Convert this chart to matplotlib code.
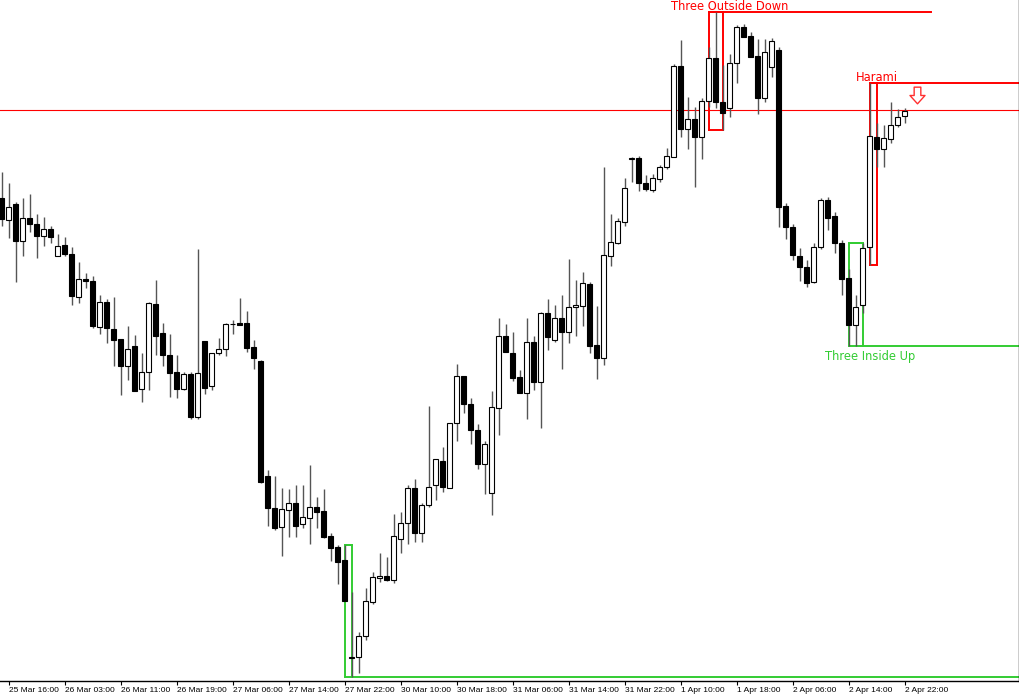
import numpy as np
import matplotlib
matplotlib.use("Agg")
import matplotlib.pyplot as plt
from matplotlib.path import Path

# hourly candles, price in chart units (no price scale shown)
opens = [502, 480, 496, 459, 482, 476, 464, 471, 444, 455,
         446, 403, 421, 419, 373, 398, 371, 361, 334, 354,
         311, 328, 396, 367, 345, 328, 311, 326, 283, 359,
         314, 347, 351, 376, 377.5, 377, 353, 339, 224, 192,
         173, 190, 197, 176, 182, 193, 189, 164, 153, 140,
         43, 43, 64, 98, 122, 124, 120, 161, 177, 212,
         167, 195, 215, 239, 212, 277, 324, 296, 270, 236,
         207, 292, 364, 347, 323, 307, 358, 318, 387, 360,
         382, 368, 393, 394, 416, 355, 342, 444, 457, 478,
         541.5, 542, 517, 510, 521, 533, 543, 634, 571, 581,
         563, 599, 642, 598, 592, 637, 673, 664, 644, 602,
         633, 650, 494, 473, 444, 433, 418, 453, 500, 484,
         457, 422, 375, 395, 453, 563, 551, 561, 575, 584]
highs = [528, 517, 498, 502, 506, 486, 483, 474, 466, 463,
         453, 438, 427, 424, 405, 401, 403, 361, 374, 365,
         347, 398, 420, 377, 366, 345, 328, 328, 451, 359,
         347, 362, 377, 380, 402, 389, 360, 340, 230, 224,
         212, 211, 215, 215, 235, 203, 211, 167, 155, 155,
         108, 68, 112, 128, 147, 143, 186, 188, 215, 221,
         197, 294, 241, 253, 277, 336, 324, 302, 276, 259,
         309, 382, 376, 368, 330, 382, 364, 388, 401, 395,
         405, 441, 420, 428, 418, 394, 533, 486, 482, 522,
         543, 544, 525, 526, 535, 552, 636, 660, 603, 593,
         602, 653, 688, 635, 646, 675, 676, 668, 661, 661,
         662, 653, 497, 476, 452, 440, 457, 502, 503, 488,
         460, 431, 405, 457, 617, 577, 575, 598, 591, 592]
lows = [474, 462, 418, 444, 468, 442, 454, 457, 444, 444,
        395, 397, 412, 372, 366, 357, 334, 305, 320, 309,
        298, 310, 345, 334, 303, 302, 310, 281, 281, 306,
        310, 345, 344, 366, 375.5, 348, 331, 217, 174, 170,
        144, 163, 163, 172, 156, 172, 162, 139, 116, 99,
        23, 27, 60, 96, 118, 119, 117, 147, 156, 158,
        158, 193, 200, 208, 212, 259, 287, 256, 231, 206,
        185, 265, 348, 319, 307, 281, 310, 272, 350, 358,
        331, 357, 364, 374, 347, 321, 335, 434, 456, 474,
        518, 509, 509, 508, 518, 531, 543, 563, 551, 513,
        541, 593, 592, 570, 583, 617, 663, 643, 586, 598,
        623, 473, 461, 440, 419, 413, 417, 451, 470, 447,
        405, 354, 354, 387, 435, 533, 533, 557, 573, 577]
closes = [481, 493, 459, 482, 476, 464, 471, 463, 454, 446,
          404, 421, 419, 374, 398, 372, 360, 334, 351, 309,
          328, 397, 364, 345, 327, 311, 326, 283, 327, 312,
          347, 351, 376, 376.5, 375.5, 352, 342, 218, 192, 172,
          191, 197, 174, 183, 193, 188, 163, 152, 138, 99,
          42.5, 64, 99, 123, 124, 120, 164, 177, 212, 167,
          195, 213, 241, 213, 277, 324, 296, 270, 236, 256,
          293, 364, 348, 322, 307, 358, 318, 387, 363, 382,
          368, 393, 395, 417, 354, 342, 445, 458, 479, 512,
          542, 517, 511, 522, 533, 544, 634, 571, 581, 563,
          599, 642, 598, 587, 637, 673, 663, 643, 602, 648,
          659, 493, 473, 445, 433, 417, 453, 500, 482, 457,
          421, 375, 393, 452, 564, 551, 562, 575, 583, 589]

tick_bars = [1, 9, 17, 25, 33, 41, 49, 57, 65, 73, 81, 89, 97, 105, 113, 121, 129]
tick_labels = ["25 Mar 16:00", "26 Mar 03:00", "26 Mar 11:00", "26 Mar 19:00",
               "27 Mar 06:00", "27 Mar 14:00", "27 Mar 22:00", "30 Mar 10:00",
               "30 Mar 18:00", "31 Mar 06:00", "31 Mar 14:00", "31 Mar 22:00",
               "1 Apr 10:00", "1 Apr 18:00", "2 Apr 06:00", "2 Apr 14:00",
               "2 Apr 22:00"]

# detected candlestick patterns
pattern_names = ["Three Outside Down", "Harami", "Three Inside Up", "Doji Star"]
pattern_start = [101, 124, 121, 49]
pattern_end = [103, 125, 123, 50]
pattern_bullish = [False, False, True, True]
pattern_line_end = [132.8, 146, 146, 146]
pattern_label_bar = [104, 125, 124, 50]

level_price = 590          # horizontal level line
signal_bar, signal_price = 130.8, 605   # sell arrow

RED = "#ff0000"
GREEN = "#33cc33"

x = np.arange(len(opens))
o = np.array(opens, float)
h = np.array(highs, float)
l = np.array(lows, float)
c = np.array(closes, float)

fig = plt.figure(figsize=(10.2, 7), dpi=100)
ax = fig.add_axes([0, 19 / 700, 1019 / 1020, 681 / 700])
ax.set_xlim(-0.243, 145.33)
ax.set_ylim(19, 700)

# level line
ax.axhline(level_price, color=RED, lw=0.8, zorder=1)

# pattern boxes + extended lines
for name, s, e, bull, lend, lbx in zip(pattern_names, pattern_start, pattern_end,
                                       pattern_bullish, pattern_line_end, pattern_label_bar):
    col = GREEN if bull else RED
    top = h[s:e + 1].max()
    bot = l[s:e + 1].min()
    ax.plot([s, s, e, e], [bot, top, top, bot], color=col, lw=1.4, zorder=2,
            solid_joinstyle="miter")
    if bull:
        ax.plot([s, e], [top, top], color=col, lw=1.4, zorder=2)
        ax.plot([s, lend], [bot, bot], color=col, lw=1.4, zorder=2)
        ax.annotate(name, (lbx, bot), xytext=(0, -3), textcoords="offset points",
                    ha="center", va="top", color=col, fontsize=8.3, zorder=6,
                    annotation_clip=False, clip_on=True)
    else:
        ax.plot([s, e], [bot, bot], color=col, lw=1.4, zorder=2)
        ax.plot([s, lend], [top, top], color=col, lw=1.4, zorder=2)
        ax.annotate(name, (lbx, top), xytext=(0, 1.5), textcoords="offset points",
                    ha="center", va="baseline", color=col, fontsize=8.3, zorder=6,
                    annotation_clip=False, clip_on=True)

# candles
up = c >= o
ax.vlines(x, l, h, color="#555555", lw=1, zorder=3)
body_bot = np.minimum(o, c)
body_h = np.abs(c - o)
ax.bar(x, body_h, bottom=body_bot, width=0.64,
       color=np.where(up, "white", "black"), edgecolor="black", lw=0.8, zorder=4)

# hollow down arrow
arrow = Path([(-0.2, 0.5), (0.2, 0.5), (0.2, 0.0), (0.45, 0.0), (0.0, -0.5),
              (-0.45, 0.0), (-0.2, 0.0), (-0.2, 0.5)], closed=True)
ax.plot([signal_bar], [signal_price], marker=arrow, ms=12, mfc="white",
        mec="#ff3030", mew=1.0, zorder=5)

# axes styling
for side in ["left", "top"]:
    ax.spines[side].set_visible(False)
for side in ["right", "bottom"]:
    ax.spines[side].set_color("black")
    ax.spines[side].set_linewidth(1.0)
ax.set_yticks([])
ax.set_xticks(tick_bars)
ax.set_xticklabels(tick_labels, fontfamily="Liberation Sans")
ax.tick_params(axis="x", direction="out", length=3, width=0.8, pad=1.5,
               labelsize=6.0, colors="black")
for lab in ax.get_xticklabels():
    lab.set_horizontalalignment("left")

fig.savefig("out.png", dpi=100)
